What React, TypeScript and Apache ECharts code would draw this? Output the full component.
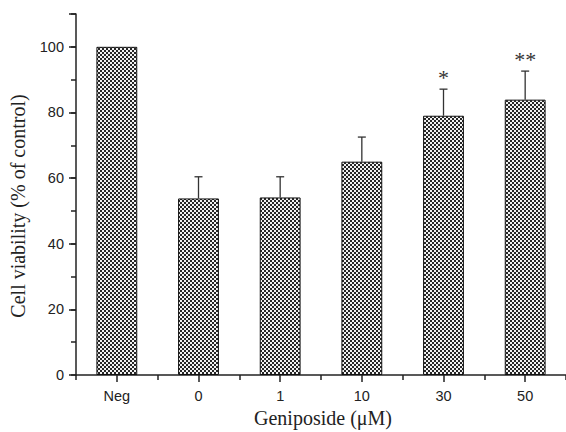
import React, { useEffect, useRef } from "react";
import * as echarts from "echarts";

const categories = ["Neg", "0", "1", "10", "30", "50"];
const viability = [100, 53.8, 54.1, 65.0, 79.0, 83.9];
const sdUpper = [0, 6.6, 6.3, 7.5, 8.1, 8.7];
const significance = ["", "", "", "", "*", "**"];
const yMin = 0;
const yMax = 110;

function makePattern(): HTMLCanvasElement {
  const c = document.createElement("canvas");
  c.width = 4;
  c.height = 4;
  const ctx = c.getContext("2d")!;
  ctx.fillStyle = "#262626";
  ctx.fillRect(0, 0, 4, 4);
  ctx.fillStyle = "#f2f2f2";
  ctx.fillRect(0, 0, 2, 2);
  ctx.fillRect(2, 2, 2, 2);
  return c;
}

export default function App() {
  const ref = useRef<HTMLDivElement>(null);
  useEffect(() => {
    if (!ref.current) return;
    const chart = echarts.init(ref.current, null, { renderer: "svg" });
    const pattern = makePattern();
    const axisColor = "#222";
    const sans = "'Liberation Sans', Arial, sans-serif";
    const serif = "'Liberation Serif', 'Times New Roman', serif";
    const errData = viability.map((v, i) => [i, v, v + sdUpper[i]]);
    chart.setOption({
      animation: false,
      backgroundColor: "#fff",
      grid: { left: 76, right: 0, top: 14, bottom: 57, containLabel: false },
      xAxis: [
        {
          type: "category",
          data: categories,
          position: "bottom",
          axisLine: { show: true, lineStyle: { color: axisColor, width: 1.5 } },
          axisTick: { show: true, alignWithLabel: true, length: 7, lineStyle: { color: axisColor, width: 1.5 } },
          axisLabel: { color: "#222", fontSize: 14.5, fontFamily: sans, margin: 13 },
          splitLine: { show: false },
        },
        {
          type: "category",
          data: categories,
          position: "bottom",
          axisLine: { show: false },
          axisTick: { show: true, interval: 0, length: 5, lineStyle: { color: axisColor, width: 1.5 } },
          axisLabel: { show: false },
          splitLine: { show: false },
        },
      ],
      yAxis: [
        {
          type: "value",
          min: yMin,
          max: yMax,
          interval: 20,
          position: "left",
          axisLine: { show: true, lineStyle: { color: axisColor, width: 1.5 } },
          axisTick: { show: true, length: 7, lineStyle: { color: axisColor, width: 1.5 } },
          axisLabel: {
            color: "#222",
            fontSize: 14.5,
            fontFamily: sans,
            margin: 12,
            formatter: (v: number) => (v % 20 === 0 && v <= 100 ? String(v) : ""),
          },
          splitLine: { show: false },
        },
        {
          type: "value",
          min: yMin,
          max: yMax,
          interval: 10,
          position: "left",
          axisLine: { show: false },
          axisTick: { show: true, length: 5, lineStyle: { color: axisColor, width: 1.5 } },
          axisLabel: { show: false },
          splitLine: { show: false },
        },
      ],
      graphic: [
        {
          type: "text",
          x: 18,
          y: 206,
          rotation: Math.PI / 2,
          style: {
            text: "Cell viability (% of control)",
            font: `20px ${serif}`,
            fill: "#222",
            align: "center",
            verticalAlign: "middle",
          },
        },
        {
          type: "text",
          x: 323,
          y: 418,
          style: {
            text: "Geniposide (\u03bcM)",
            font: `20px ${serif}`,
            fill: "#222",
            align: "center",
            verticalAlign: "middle",
          },
        },
      ],
      series: [
        {
          type: "bar",
          xAxisIndex: 0,
          yAxisIndex: 0,
          data: viability,
          barWidth: "50%",
          itemStyle: {
            color: { image: pattern, repeat: "repeat", imageWidth: 4, imageHeight: 4 },
            borderColor: "#111",
            borderWidth: 1,
          },
        },
        {
          type: "custom",
          xAxisIndex: 0,
          yAxisIndex: 0,
          data: errData,
          encode: { x: 0, y: [1, 2] },
          z: 5,
          renderItem: (params: any, api: any) => {
            const i = params.dataIndex;
            const x = api.value(0);
            const base = api.coord([x, api.value(1)]);
            const top = api.coord([x, api.value(2)]);
            const children: any[] = [];
            if (sdUpper[i] > 0) {
              children.push({
                type: "line",
                shape: { x1: base[0], y1: base[1], x2: top[0], y2: top[1] },
                style: { stroke: "#333", lineWidth: 1.3 },
              });
              children.push({
                type: "line",
                shape: { x1: top[0] - 4, y1: top[1], x2: top[0] + 4, y2: top[1] },
                style: { stroke: "#333", lineWidth: 1.3 },
              });
            }
            if (significance[i]) {
              children.push({
                type: "text",
                x: top[0],
                y: top[1] - 12,
                style: {
                  text: significance[i],
                  font: `22px ${serif}`,
                  fill: "#333",
                  align: "center",
                  verticalAlign: "middle",
                },
              });
            }
            return { type: "group", children };
          },
        },
      ],
    });
    return () => chart.dispose();
  }, []);
  return (
    <div
      ref={ref}
      style={{ position: "fixed", left: 0, top: 0, width: 566, height: 432, background: "#fff" }}
    />
  );
}
